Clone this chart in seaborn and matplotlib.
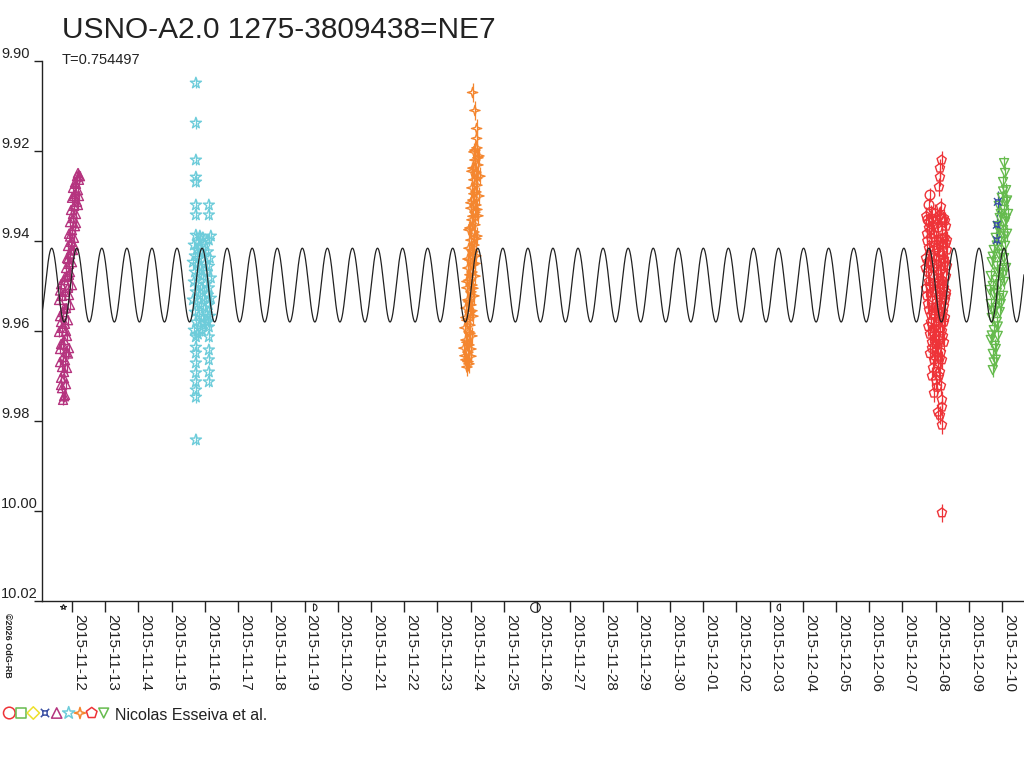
import numpy as np
import pandas as pd
import matplotlib
matplotlib.use('Agg')
import matplotlib.pyplot as plt
from matplotlib.path import Path
from matplotlib.transforms import blended_transform_factory
import seaborn as sns

# times are days since 2015-11-12 00:00 UT, values are magnitudes
base_date = pd.Timestamp('2015-11-12')

# magenta triangles (night of 11-11/12)
tri_t = [-0.27, -0.21, -0.30, -0.18, -0.33, -0.24, -0.15, -0.36, -0.27, -0.18, -0.09, -0.33,
         -0.24, -0.15, -0.39, -0.30, -0.21, -0.12,
         -0.36, -0.27, -0.18, -0.06, -0.39, -0.30, -0.21, -0.12, 0.00, -0.33, -0.24, -0.15, -0.06,
         -0.18, -0.09, 0.00, -0.15, -0.06, 0.03, -0.12, -0.03, 0.06, -0.09, 0.00, 0.09, -0.06, 0.03,
         0.12, -0.03, 0.06, 0.15, 0.00, 0.09, 0.18, 0.03, 0.12, 0.21, 0.15, 0.24, 0.18,
         -0.24, -0.33, -0.24, -0.30, -0.21, -0.12, -0.36, -0.27, -0.18, -0.33, -0.24, -0.09, -0.36,
         -0.21, -0.09, -0.12, -0.03, 0.06, -0.06, 0.12, 0.03, 0.18, 0.06, 0.21, 0.09, 0.21]
tri_mag = [9.9753, 9.9742, 9.9727, 9.9718, 9.9704, 9.9691, 9.9682, 9.9669, 9.9658, 9.9647, 9.9638, 9.9629,
           9.9620, 9.9611, 9.9602, 9.9593, 9.9584, 9.9576,
           9.9567, 9.9558, 9.9549, 9.9542, 9.9531, 9.9522, 9.9513, 9.9504, 9.9498, 9.9496, 9.9487, 9.9478, 9.9469,
           9.9460, 9.9451, 9.9447, 9.9438, 9.9429, 9.9420, 9.9411, 9.9402, 9.9393, 9.9384, 9.9376, 9.9367, 9.9358, 9.9349,
           9.9340, 9.9331, 9.9322, 9.9313, 9.9304, 9.9296, 9.9287, 9.9282, 9.9273, 9.9264, 9.9256, 9.9256, 9.9249,
           9.9745, 9.9720, 9.9705, 9.9680, 9.9665, 9.9650, 9.9640, 9.9630, 9.9600, 9.9580, 9.9550, 9.9520, 9.9510,
           9.9480, 9.9475, 9.9440, 9.9420, 9.9410, 9.9390, 9.9360, 9.9340, 9.9320, 9.9300, 9.9300, 9.9270, 9.9255]

# cyan stars (night of 11-15/16)
star_t = [3.73] * 16 + [4.12] * 8 + [
    3.73, 3.85, 3.94, 3.79, 3.67, 3.88, 4.00, 4.12, 4.18, 3.76, 3.91, 3.70, 3.82, 3.97, 4.09, 4.15,
    3.64, 3.76, 3.88, 4.00, 4.12, 3.70, 3.82, 3.94, 4.06, 4.18, 3.67, 3.79, 3.91, 4.03, 4.12, 3.73,
    3.85, 3.97, 4.09, 3.64, 3.76, 3.88, 4.00, 4.12, 3.70, 3.82, 3.94, 4.06, 3.73, 3.85, 3.97, 4.09,
    3.67, 3.79, 3.91, 4.15, 4.18]
star_mag = [9.9049, 9.9138, 9.9220, 9.9258, 9.9269, 9.9320, 9.9342, 9.9613, 9.9636, 9.9649, 9.9671,
            9.9693, 9.9713, 9.9731, 9.9747, 9.9842,
            9.9320, 9.9342, 9.9591, 9.9613, 9.9642, 9.9664, 9.9691, 9.9713,
            9.9387, 9.9389, 9.9393, 9.9402, 9.9409, 9.9411, 9.9407, 9.9398, 9.9389, 9.9420, 9.9424, 9.9433,
            9.9438, 9.9431, 9.9424, 9.9438, 9.9447, 9.9453, 9.9460, 9.9451, 9.9456, 9.9469, 9.9476, 9.9478,
            9.9469, 9.9482, 9.9491, 9.9498, 9.9504, 9.9496, 9.9504, 9.9513, 9.9522, 9.9527, 9.9520, 9.9531,
            9.9540, 9.9544, 9.9549, 9.9542, 9.9558, 9.9567, 9.9571, 9.9562, 9.9580, 9.9589, 9.9584, 9.9580,
            9.9598, 9.9607, 9.9598, 9.9567, 9.9527]

# orange four-point stars (night of 11-23/24)
sparkle_t = [12.06, 12.13, 12.18, 12.18,
             12.19, 12.10, 12.25, 12.13, 12.22, 12.07, 12.16, 12.28, 12.10, 12.19, 12.04, 12.16, 12.25, 12.07,
             12.16, 12.01, 12.13, 12.22, 12.04, 12.13, 11.98, 12.10, 12.19, 12.01, 12.10, 11.95, 12.07, 12.16,
             11.98, 12.07, 11.92, 12.04, 12.13, 11.95, 12.04, 11.89, 12.01, 12.10, 11.92, 12.01, 11.86, 11.98,
             12.07, 11.89, 11.98, 11.83, 11.95, 12.04, 11.86, 11.95, 11.80, 11.92, 12.01, 11.86, 11.95, 11.89,
             12.13, 12.22, 12.04, 12.19, 12.10, 12.01, 12.19, 12.07, 11.95, 12.16, 12.04, 11.92, 12.13, 11.98,
             11.89, 12.07, 11.95, 12.04, 11.86, 11.98, 11.89, 12.01, 11.83, 11.92]
sparkle_mag = [9.9070, 9.9110, 9.9150, 9.9172,
               9.9193, 9.9202, 9.9211, 9.9220, 9.9231, 9.9238, 9.9247, 9.9256, 9.9264, 9.9276, 9.9282, 9.9291,
               9.9300, 9.9309, 9.9320, 9.9327, 9.9336, 9.9344, 9.9353, 9.9364, 9.9371, 9.9380, 9.9389, 9.9398,
               9.9409, 9.9416, 9.9424, 9.9433, 9.9442, 9.9453, 9.9460, 9.9469, 9.9478, 9.9487, 9.9498, 9.9504,
               9.9513, 9.9522, 9.9531, 9.9542, 9.9549, 9.9558, 9.9567, 9.9576, 9.9587, 9.9593, 9.9602, 9.9611,
               9.9620, 9.9631, 9.9638, 9.9647, 9.9656, 9.9664, 9.9673, 9.9680,
               9.9198, 9.9215, 9.9245, 9.9260, 9.9295, 9.9315, 9.9330, 9.9345, 9.9375, 9.9395, 9.9420, 9.9440,
               9.9450, 9.9475, 9.9490, 9.9505, 9.9535, 9.9555, 9.9570, 9.9605, 9.9625, 9.9640, 9.9655, 9.9668]

# red circles and pentagons (night of 12-07/08)
circ_t = [25.83, 25.80, 25.86, 25.77]
circ_mag = [9.9298, 9.9320, 9.9336, 9.9353]

pent_t = [26.18, 26.13, 26.13, 26.10, 26.16,
          25.98, 26.13, 26.25, 25.80, 25.92, 26.07, 26.19, 26.31, 25.74, 25.86, 26.01, 26.13, 26.28,
          25.80, 25.95, 26.10, 26.22, 26.34, 25.71, 25.86, 26.01, 26.16, 26.28, 25.77, 25.92, 26.07,
          26.19, 26.31, 25.83, 25.98, 26.13, 26.25, 25.74, 25.89, 26.04, 26.16, 26.28, 25.80, 25.95,
          26.10, 26.22, 25.86, 26.01, 26.13, 26.25, 25.83, 25.98, 26.10, 26.22, 25.89, 26.04, 26.16,
          25.95, 26.07, 26.19, 25.92, 26.13, 26.01, 26.16, 25.95, 26.19, 26.19, 26.07, 26.13, 26.19,
          26.19,
          26.04, 25.86, 26.22, 25.77, 26.07, 25.92, 26.31, 26.01, 26.19, 25.92, 26.07, 25.80, 26.34,
          25.72, 25.89, 26.10, 26.28, 25.75, 25.95, 26.19, 26.31, 25.83, 26.04, 26.25, 25.70, 25.95,
          26.13, 26.34, 25.80, 26.04, 26.22, 25.71, 25.89, 26.10, 26.31, 25.77, 25.98, 26.25, 25.86,
          26.07, 26.28, 25.78, 25.95, 26.19, 25.89, 26.01, 26.25, 25.83, 25.98, 26.13, 26.10, 25.89,
          26.04]
pent_mag = [9.9220, 9.9238, 9.9258, 9.9280, 9.9324,
            9.9338, 9.9342, 9.9349, 9.9358, 9.9364, 9.9371, 9.9376, 9.9367, 9.9384, 9.9393, 9.9398,
            9.9402, 9.9393, 9.9416, 9.9420, 9.9424, 9.9431, 9.9420, 9.9438, 9.9447, 9.9451, 9.9456,
            9.9447, 9.9469, 9.9476, 9.9482, 9.9487, 9.9478, 9.9500, 9.9509, 9.9513, 9.9504, 9.9522,
            9.9531, 9.9536, 9.9542, 9.9531, 9.9553, 9.9562, 9.9567, 9.9558, 9.9580, 9.9589, 9.9593,
            9.9580, 9.9607, 9.9616, 9.9620, 9.9611, 9.9638, 9.9642, 9.9647, 9.9664, 9.9673, 9.9664,
            9.9682, 9.9691, 9.9709, 9.9722, 9.9738, 9.9753, 9.9769, 9.9780, 9.9787, 9.9809,
            10.0004,
            9.9353, 9.9376, 9.9409, 9.9447, 9.9438, 9.9496, 9.9513, 9.9547, 9.9571, 9.9602, 9.9629,
            9.9371, 9.9398,
            9.9345, 9.9350, 9.9345, 9.9355, 9.9400, 9.9385, 9.9395, 9.9405, 9.9430, 9.9415, 9.9440,
            9.9460, 9.9460, 9.9470, 9.9455, 9.9490, 9.9495, 9.9490, 9.9505, 9.9515, 9.9525, 9.9520,
            9.9540, 9.9555, 9.9545, 9.9565, 9.9580, 9.9570, 9.9590, 9.9595, 9.9600, 9.9625, 9.9630,
            9.9625, 9.9650, 9.9655, 9.9660, 9.9700, 9.9700, 9.9725]

# green down-triangles (night of 12-09/10)
dtri_t = [28.06, 28.09, 28.03, 28.12,
          27.99, 28.12, 27.90, 28.06, 28.18, 27.93, 28.09, 27.87, 28.03, 28.15, 27.81, 27.96, 28.09,
          27.75, 27.90, 28.06, 27.69, 27.84, 27.99, 28.12, 27.66, 27.81, 27.93, 28.06, 27.63, 27.75,
          27.90, 28.03, 27.66, 27.81, 27.93, 27.69, 27.84, 27.75, 27.87, 27.66, 27.78, 27.72, 27.81, 27.72,
          28.03, 28.15, 27.96, 28.12, 27.90, 28.06, 27.84, 27.99, 27.72, 27.87, 28.03, 27.72, 27.84,
          27.96, 27.72, 27.87, 27.69, 27.81, 27.75]
dtri_mag = [9.9227, 9.9249, 9.9269, 9.9287,
            9.9304, 9.9313, 9.9322, 9.9331, 9.9340, 9.9349, 9.9358, 9.9367, 9.9376, 9.9384, 9.9393,
            9.9402, 9.9411, 9.9420, 9.9429, 9.9438, 9.9447, 9.9456, 9.9464, 9.9460, 9.9478, 9.9487,
            9.9496, 9.9491, 9.9509, 9.9518, 9.9527, 9.9522, 9.9540, 9.9549, 9.9558, 9.9571, 9.9580,
            9.9598, 9.9611, 9.9620, 9.9633, 9.9651, 9.9664, 9.9687,
            9.9290, 9.9310, 9.9340, 9.9350, 9.9375, 9.9390, 9.9410, 9.9430, 9.9435, 9.9470, 9.9475,
            9.9500, 9.9515, 9.9540, 9.9555, 9.9590, 9.9610, 9.9640, 9.9670]

# blue crossed squares (same night)
cross_t = [27.87, 27.84, 27.84]
cross_mag = [9.9313, 9.9364, 9.9398]

# sine model
period = 0.754497
model_mean = 9.9498
model_amp = 0.0082
model_t0 = -0.611  # time of maximum light

moon_dates = ['2015-11-11 17:47', '2015-11-19 06:27', '2015-11-25 22:44', '2015-12-03 07:40']

y_ticks = [9.90, 9.92, 9.94, 9.96, 9.98, 10.00, 10.02]
tick_dates = pd.date_range('2015-11-12', '2015-12-10', freq='D')
tick_labels = [d.strftime('%Y-%m-%d') for d in tick_dates]

# ---- marker shapes ----
sparkle = Path([(0, 1), (0.22, 0.22), (1, 0), (0.22, -0.22), (0, -1), (-0.22, -0.22),
                (-1, 0), (-0.22, 0.22), (0, 1)],
               [Path.MOVETO] + [Path.LINETO] * 7 + [Path.CLOSEPOLY])
crossbox = Path([(-0.5, -0.5), (0.5, -0.5), (0.5, 0.5), (-0.5, 0.5), (-0.5, -0.5),
                 (0.5, 0.5), (1, 1), (-0.5, 0.5), (-1, 1), (0.5, -0.5), (1, -1), (-0.5, -0.5), (-1, -1)],
                [Path.MOVETO] + [Path.LINETO] * 3 + [Path.CLOSEPOLY] +
                [Path.MOVETO, Path.LINETO] * 4)
ang = np.linspace(-np.pi / 2, np.pi / 2, 20)
half_r = Path(np.r_[np.c_[np.cos(ang), np.sin(ang)], [[0, -1]]])
half_l = Path(np.r_[np.c_[-np.cos(ang), np.sin(ang)], [[0, -1]]])

RED = '#EE3338'
GREEN = '#66BB4E'
YELLOW = '#EEE02A'
BLUE = '#3A4FA3'
MAGENTA = '#B5347F'
CYAN = '#6DCCDA'
ORANGE = '#F4862F'

groups = [
    (tri_t, tri_mag, '^', MAGENTA, 0.0012, 42),
    (star_t, star_mag, '*', CYAN, 0.0012, 70),
    (sparkle_t, sparkle_mag, sparkle, ORANGE, 0.0020, 55),
    (pent_t, pent_mag, 'p', RED, 0.0020, 48),
    (circ_t, circ_mag, 'o', RED, 0.0015, 48),
    (dtri_t, dtri_mag, 'v', GREEN, 0.0015, 42),
    (cross_t, cross_mag, crossbox, BLUE, 0.0025, 30),
]

sns.set_style('ticks')
plt.rcParams['font.family'] = ['Liberation Sans', 'DejaVu Sans']
ink = '#222222'

fig = plt.figure(figsize=(10.24, 7.68), dpi=100)
ax = fig.add_axes([42 / 1024, 167 / 768, 982 / 1024, 540 / 768])

for t, m, mk, col, err, size in groups:
    df = pd.DataFrame({'date': base_date + pd.to_timedelta(t, unit='D'), 'mag': m})
    ax.errorbar(df['date'], df['mag'], yerr=err, fmt='none', ecolor=col,
                elinewidth=0.9, capsize=0, zorder=2)
    sns.scatterplot(data=df, x='date', y='mag', marker=mk, s=size, facecolors='none',
                    edgecolor=col, color=col, linewidth=1.0, legend=False, ax=ax, zorder=3)

x_lo, x_hi = -0.903, 28.66
tt = np.linspace(x_lo, x_hi, 4000)
model = pd.DataFrame({'date': base_date + pd.to_timedelta(tt, unit='D'),
                      'mag': model_mean - model_amp * np.cos(2 * np.pi * (tt - model_t0) / period)})
sns.lineplot(data=model, x='date', y='mag', color=ink, lw=0.9, estimator=None, sort=False,
             ax=ax, zorder=4)

ax.set_xlim(base_date + pd.Timedelta(days=x_lo), base_date + pd.Timedelta(days=x_hi))
ax.set_ylim(10.02, 9.90)
ax.set_xlabel('')
ax.set_ylabel('')
ax.set_yticks(y_ticks)
ax.set_yticklabels([f'{v:.2f}' for v in y_ticks], va='bottom', ha='left')
ax.set_xticks(tick_dates)
ax.set_xticklabels(tick_labels, rotation=270, ha='left', va='top')
ax.tick_params(axis='x', length=8, width=1, pad=1.5, labelsize=11, colors=ink)
ax.tick_params(axis='y', length=5.8, width=1, pad=23.5, labelsize=10.5, colors=ink)
for s in ['top', 'right']:
    ax.spines[s].set_visible(False)
for s in ['left', 'bottom']:
    ax.spines[s].set_color(ink)
    ax.spines[s].set_linewidth(1)

# moon phases under the axis
trans = blended_transform_factory(ax.transData, ax.transAxes)
moon_x = pd.to_datetime(moon_dates)
moon_marks = [('*', 4, ink), (half_r, 5, ink), ('o', 7, ink), (half_l, 5, ink)]
for d, (mk, ms, col) in zip(moon_x, moon_marks):
    ax.plot([d], [-0.011], marker=mk, ms=ms, mfc='none', mec=col, mew=0.8,
            transform=trans, clip_on=False)

# texts
fig.text(62 / 1024, 1 - 38 / 768, 'USNO-A2.0 1275-3809438=NE7', fontsize=21.5,
         color=ink, va='baseline')
fig.text(62 / 1024, 1 - 64 / 768, f'T={period}', fontsize=10.5, color=ink, va='baseline')
fig.text(7 / 1024, 1 - 613 / 768, '©2026 OdG-RB', fontsize=6.5, fontweight='bold',
         rotation=270, ha='center', va='top', color=ink)

# marker key
lax = fig.add_axes([0, 0, 1, 1])
lax.set_xlim(0, 1024)
lax.set_ylim(768, 0)
lax.axis('off')
key_marks = ['o', 's', 'D', crossbox, '^', '*', sparkle, 'p', 'v']
key_cols = [RED, GREEN, YELLOW, BLUE, MAGENTA, CYAN, ORANGE, RED, GREEN]
key_x = [9.3, 21, 33.3, 45, 56.7, 68.7, 80, 91.7, 103.7]
key_s = [70, 48, 40, 36, 55, 85, 65, 65, 50]
for kx, mk, col, ks in zip(key_x, key_marks, key_cols, key_s):
    lax.scatter([kx], [713], marker=mk, s=ks, facecolors='none', edgecolors=col, linewidths=1.1)
lax.text(115, 720, 'Nicolas Esseiva et al.', fontsize=11.5, color=ink, va='baseline')

fig.savefig('out.png', dpi=100)
